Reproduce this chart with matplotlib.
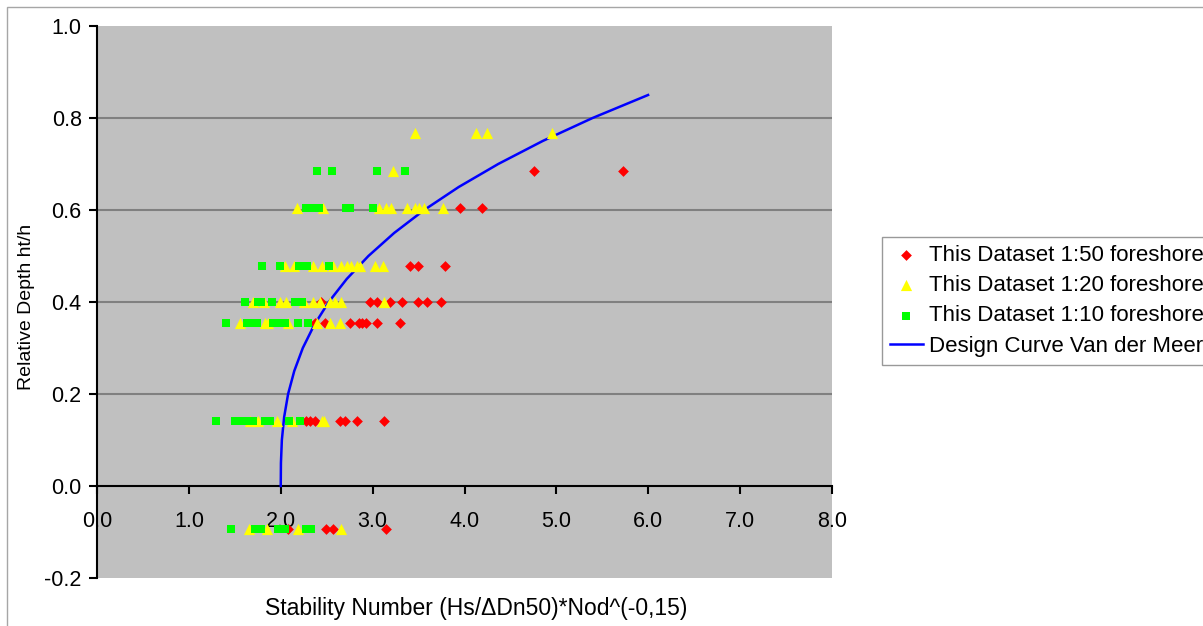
import matplotlib
matplotlib.use("Agg")
import matplotlib.pyplot as plt
from matplotlib.patches import Rectangle

# ---- data ----
red_x = [4.76, 5.72,
         3.95, 4.19,
         3.41, 3.49, 3.79,
         2.44, 2.97, 3.05, 3.19, 3.32, 3.49, 3.59, 3.74,
         2.37, 2.48, 2.75, 2.85, 2.88, 2.93, 3.05, 3.30,
         2.27, 2.32, 2.37, 2.64, 2.70, 2.83, 3.12,
         2.08, 2.49, 2.57, 3.15]
red_y = [0.685, 0.685,
         0.604, 0.604,
         0.478, 0.478, 0.478,
         0.40, 0.40, 0.40, 0.40, 0.40, 0.40, 0.40, 0.40,
         0.354, 0.354, 0.354, 0.354, 0.354, 0.354, 0.354, 0.354,
         0.141, 0.141, 0.141, 0.141, 0.141, 0.141, 0.141,
         -0.093, -0.093, -0.093, -0.093]

yellow_x = [3.46, 4.12, 4.25, 4.95,
            3.22,
            2.18, 2.46, 3.07, 3.15, 3.20, 3.37, 3.46, 3.51, 3.56, 3.77,
            2.05, 2.14, 2.35, 2.45, 2.57, 2.66, 2.72, 2.77, 2.83, 2.86, 3.03, 3.11,
            1.70, 1.82, 1.99, 2.06, 2.25, 2.35, 2.43, 2.54, 2.59, 2.66, 3.12,
            1.56, 1.83, 1.86, 2.08, 2.39, 2.54, 2.64,
            1.66, 1.75, 1.96, 2.12, 2.45, 2.47,
            1.65, 1.85, 2.19, 2.66]
yellow_y = [0.767, 0.767, 0.767, 0.767,
            0.685,
            0.604, 0.604, 0.604, 0.604, 0.604, 0.604, 0.604, 0.604, 0.604, 0.604,
            0.478, 0.478, 0.478, 0.478, 0.478, 0.478, 0.478, 0.478, 0.478, 0.478, 0.478, 0.478,
            0.40, 0.40, 0.40, 0.40, 0.40, 0.40, 0.40, 0.40, 0.40, 0.40, 0.40,
            0.354, 0.354, 0.354, 0.354, 0.354, 0.354, 0.354,
            0.141, 0.141, 0.141, 0.141, 0.141, 0.141,
            -0.093, -0.093, -0.093, -0.093]

green_x = [2.39, 2.56, 3.05, 3.35,
           2.28, 2.34, 2.42, 2.71, 2.75, 3.00,
           1.80, 1.99, 2.20, 2.24, 2.29, 2.52,
           1.61, 1.75, 1.79, 1.91, 2.15, 2.23,
           1.40, 1.63, 1.68, 1.74, 1.92, 1.97, 2.05, 2.19, 2.30,
           1.30, 1.50, 1.56, 1.61, 1.70, 1.83, 1.88, 2.09, 2.21,
           1.46, 1.72, 1.79, 1.97, 2.05, 2.28, 2.33]
green_y = [0.685, 0.685, 0.685, 0.685,
           0.604, 0.604, 0.604, 0.604, 0.604, 0.604,
           0.478, 0.478, 0.478, 0.478, 0.478, 0.478,
           0.40, 0.40, 0.40, 0.40, 0.40, 0.40,
           0.354, 0.354, 0.354, 0.354, 0.354, 0.354, 0.354, 0.354, 0.354,
           0.141, 0.141, 0.141, 0.141, 0.141, 0.141, 0.141, 0.141, 0.141,
           -0.093, -0.093, -0.093, -0.093, -0.093, -0.093, -0.093]

curve_y = [0.0, 0.05, 0.10, 0.15, 0.20, 0.25, 0.30, 0.35, 0.40, 0.45,
           0.50, 0.55, 0.60, 0.65, 0.70, 0.75, 0.80, 0.85]
curve_x = [2.00, 2.002, 2.012, 2.037, 2.080, 2.147, 2.240, 2.364, 2.522, 2.718,
           2.954, 3.234, 3.561, 3.937, 4.367, 4.851, 5.394, 5.998]

x_ticks = [0, 1, 2, 3, 4, 5, 6, 7, 8]
y_ticks = [-0.2, 0.0, 0.2, 0.4, 0.6, 0.8, 1.0]

labels = ["This Dataset 1:50 foreshore", "This Dataset 1:20 foreshore",
          "This Dataset 1:10 foreshore", "Design Curve Van der Meer"]

FS = 15.5

# ---- figure ----
plt.rcParams['font.family'] = ['Liberation Sans', 'DejaVu Sans']
fig = plt.figure(figsize=(12.03, 6.26), dpi=100)
fig.patch.set_facecolor('white')
fig.patches.append(Rectangle((7 / 1203, -0.1), 1.2, 1 - 7 / 626 + 0.1,
                             transform=fig.transFigure, fill=False,
                             edgecolor='#A6A6A6', linewidth=1.0))

ax = fig.add_axes([97 / 1203, 1 - 578 / 626, (832 - 97) / 1203, (578 - 26) / 626])
ax.set_facecolor('#C0C0C0')
ax.set_xlim(0, 8)
ax.set_ylim(-0.2, 1.0)

for yv in [0.2, 0.4, 0.6, 0.8]:
    ax.axhline(yv, color='#808080', linewidth=1.5, zorder=1)

ax.plot(curve_x, curve_y, color='#0000FF', linewidth=1.8, zorder=3, label=labels[3])
ax.scatter(red_x, red_y, marker='D', s=30, color='#FF0000', linewidths=0, zorder=4, label=labels[0])
ax.scatter(yellow_x, yellow_y, marker='^', s=65, color='#FFFF00', linewidths=0, zorder=4, label=labels[1])
ax.scatter(green_x, green_y, marker='s', s=30, color='#00FF00', linewidths=0, zorder=4, label=labels[2])

for s in ['top', 'right']:
    ax.spines[s].set_visible(False)
ax.spines['bottom'].set_position(('data', 0))
ax.spines['bottom'].set_linewidth(1.5)
ax.spines['left'].set_linewidth(1.5)

ax.set_xticks(x_ticks)
ax.set_xticklabels([f"{v:.1f}" for v in x_ticks])
ax.set_yticks(y_ticks)
ax.set_yticklabels([f"{v:.1f}" for v in y_ticks])
ax.tick_params(axis='x', direction='out', length=6, width=1.5, pad=12, labelsize=FS, colors='black')
ax.tick_params(axis='y', direction='out', length=6, width=1.5, pad=5, labelsize=FS, colors='black')

fig.text(476 / 1203, 1 - 608 / 626, "Stability Number (Hs/ΔDn50)*Nod^(-0,15)",
         ha='center', va='center', fontsize=16.5)
fig.text(27 / 1203, 1 - 307 / 626, "Relative Depth ht/h", rotation=90,
         ha='center', va='center', fontsize=14)

h, l = ax.get_legend_handles_labels()
order = [l.index(t) for t in labels]
leg = fig.legend([h[i] for i in order], [l[i] for i in order],
                 loc='upper left', bbox_to_anchor=(882 / 1203, 1 - 237 / 626),
                 fontsize=16, frameon=True, fancybox=False, borderpad=0.35,
                 handlelength=1.5, handletextpad=0.25, labelspacing=0.42,
                 borderaxespad=0)
leg.get_frame().set_edgecolor('#808080')
leg.get_frame().set_linewidth(1.0)

fig.savefig("out.png", dpi=100, facecolor='white')
